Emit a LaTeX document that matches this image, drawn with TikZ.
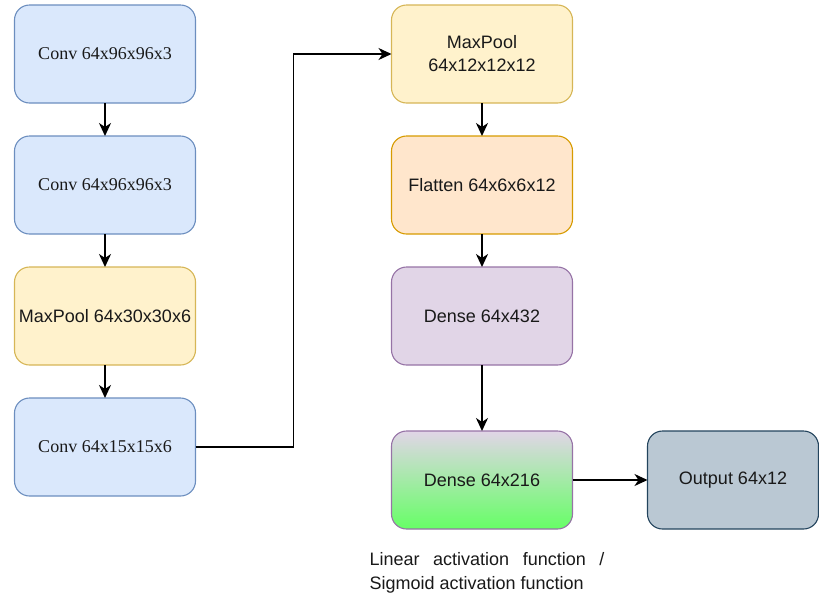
\documentclass[tikz,border=0pt]{standalone}
\usepackage{fontspec}
\setmainfont{Liberation Sans}
\newfontfamily\convfont{Liberation Serif}
\usepackage{tikz}
\usetikzlibrary{positioning,arrows.meta,calc}

\definecolor{convfill}{HTML}{DAE8FC}
\definecolor{convline}{HTML}{6C8EBF}
\definecolor{poolfill}{HTML}{FFF2CC}
\definecolor{poolline}{HTML}{D6B656}
\definecolor{flatfill}{HTML}{FFE6CC}
\definecolor{flatline}{HTML}{D79B00}
\definecolor{densefill}{HTML}{E1D5E7}
\definecolor{denseline}{HTML}{9673A6}
\definecolor{greenbot}{HTML}{66FF66}
\definecolor{outfill}{HTML}{BAC8D3}
\definecolor{outline}{HTML}{23445D}

\begin{document}
\begin{tikzpicture}[x=1pt, y=1pt, node distance=33pt,
    block/.style={rectangle, draw, line width=1.1pt, outer sep=0pt, rounded corners=15pt, minimum width=181pt, minimum height=98pt, align=center, inner sep=2pt, text=black!90, font=\fontsize{18}{23}\selectfont},
    conv/.style={block, fill=convfill, draw=convline, font=\convfont\fontsize{18}{23}\selectfont},
    pool/.style={block, fill=poolfill, draw=poolline},
    arrow/.style={line width=2pt, -{Stealth[length=13pt,width=12pt,inset=4pt]}}]

    \useasboundingbox (0,0) rectangle (819,-595);

    % first column
    \node[conv] (conv1) at (105,-54) {Conv 64x96x96x3};
    \node[conv, below=of conv1] (conv2) {Conv 64x96x96x3};
    \node[pool, below=of conv2] (pool1) {MaxPool 64x30x30x6};
    \node[conv, below=of pool1] (conv3) {Conv 64x15x15x6};

    % second column
    \node[pool] (pool2) at (482,-54) {MaxPool\\64x12x12x12};
    \node[block, fill=flatfill, draw=flatline, below=of pool2] (flat) {Flatten 64x6x6x12};
    \node[block, fill=densefill, draw=denseline, below=of flat] (dense1) {Dense 64x432};
    \node[block, top color=densefill, bottom color=greenbot, draw=denseline, below=66pt of dense1] (dense2) {Dense 64x216};
    \node[block, fill=outfill, draw=outline, minimum width=171pt, right=75pt of dense2] (out) {Output 64x12};

    \draw[arrow] (conv1) -- (conv2);
    \draw[arrow] (conv2) -- (pool1);
    \draw[arrow] (pool1) -- (conv3);
    \coordinate (bend) at ($(conv3.east)!0.5!(pool2.west)$);
    \draw[arrow, line width=1.4pt] (conv3.east) -| (bend) |- (pool2.west);
    \draw[arrow] (pool2) -- (flat);
    \draw[arrow] (flat) -- (dense1);
    \draw[arrow, line width=1.4pt] (dense1) -- (dense2);
    \draw[arrow, line width=1.4pt] (dense2) -- (out);

    % Annotations
    \node[below=23pt of dense2, xshift=5pt, text width=235pt, align=justify, inner sep=0pt, text=black!90, font=\fontsize{18}{24}\selectfont] (act) {Linear activation function / Sigmoid activation function};

\end{tikzpicture}
\end{document}
